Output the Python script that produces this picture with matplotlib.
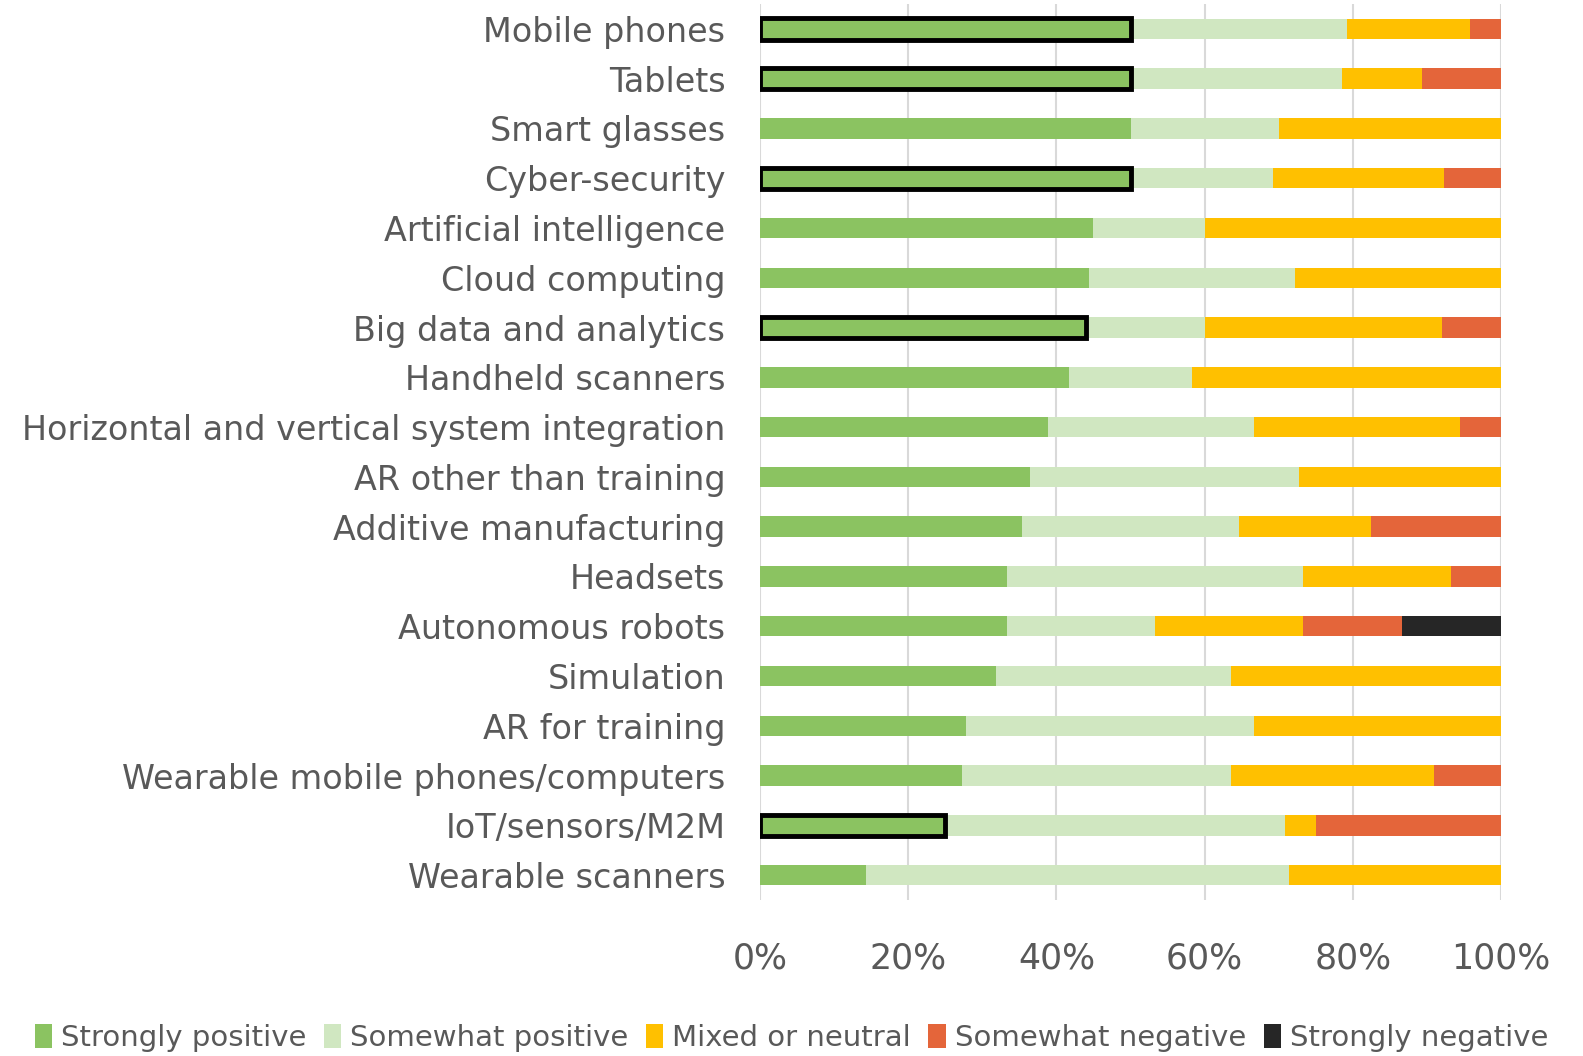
import numpy as np
import matplotlib
matplotlib.use("Agg")
import matplotlib.pyplot as plt
from matplotlib.ticker import PercentFormatter

categories = ["Mobile phones", "Tablets", "Smart glasses", "Cyber-security",
              "Artificial intelligence", "Cloud computing", "Big data and analytics",
              "Handheld scanners", "Horizontal and vertical system integration",
              "AR other than training", "Additive manufacturing", "Headsets",
              "Autonomous robots", "Simulation", "AR for training",
              "Wearable mobile phones/computers", "IoT/sensors/M2M", "Wearable scanners"]

# shares in percent, per category (same order as above)
strongly_pos = [50.0, 50.0, 50.0, 50.0, 45.0, 44.4, 44.0, 41.7, 38.9, 36.4, 35.3, 33.3, 33.3, 31.8, 27.8, 27.3, 25.0, 14.3]
somewhat_pos = [29.2, 28.6, 20.0, 19.2, 15.0, 27.8, 16.0, 16.6, 27.8, 36.3, 29.4, 40.0, 20.0, 31.8, 38.9, 36.3, 45.8, 57.1]
mixed        = [16.6, 10.7, 30.0, 23.1, 40.0, 27.8, 32.0, 41.7, 27.7, 27.3, 17.7, 20.0, 20.0, 36.4, 33.3, 27.3, 4.2, 28.6]
somewhat_neg = [4.2, 10.7, 0.0, 7.7, 0.0, 0.0, 8.0, 0.0, 5.6, 0.0, 17.6, 6.7, 13.3, 0.0, 0.0, 9.1, 25.0, 0.0]
strongly_neg = [0.0, 0.0, 0.0, 0.0, 0.0, 0.0, 0.0, 0.0, 0.0, 0.0, 0.0, 0.0, 13.4, 0.0, 0.0, 0.0, 0.0, 0.0]
highlighted = ["Mobile phones", "Tablets", "Cyber-security", "Big data and analytics", "IoT/sensors/M2M"]

series = [("Strongly positive", strongly_pos, "#8BC361"),
          ("Somewhat positive", somewhat_pos, "#D0E7C1"),
          ("Mixed or neutral", mixed, "#FFC000"),
          ("Somewhat negative", somewhat_neg, "#E4653A"),
          ("Strongly negative", strongly_neg, "#262626")]

text_color = "#595959"
plt.rcParams['font.family'] = ['DejaVu Sans']

fig = plt.figure(figsize=(15.83, 10.56), dpi=100)
ax = fig.add_axes([760 / 1583, 1 - 900 / 1056, 741 / 1583, 896 / 1056])

y = np.arange(len(categories))
left = np.zeros(len(categories))
for name, vals, col in series:
    vals = np.array(vals)
    ax.barh(y, vals, left=left, height=0.41, color=col, label=name, zorder=2)
    left += vals

# black outline around selected strongly-positive bars
for i, cat in enumerate(categories):
    if cat in highlighted:
        ax.barh(i, strongly_pos[i], height=0.43, facecolor="none",
                edgecolor="black", linewidth=3.5, zorder=3)

ax.set_xlim(0, 100)
ax.set_ylim(len(categories) - 0.5, -0.5)
ax.set_yticks(y)
ax.set_yticklabels(categories, fontsize=24)
ax.set_xticks(np.arange(0, 101, 20))
ax.xaxis.set_major_formatter(PercentFormatter(decimals=0))
ax.grid(axis="x", color="#D9D9D9", linewidth=1.5, zorder=0)
for s in ax.spines.values():
    s.set_visible(False)
ax.tick_params(axis="both", length=0, colors=text_color)
ax.tick_params(axis="x", pad=30, labelsize=25)
ax.tick_params(axis="y", pad=25)

ax.legend(loc="center", bbox_to_anchor=(0.5, 1 - 1038 / 1056),
          bbox_transform=fig.transFigure, ncol=5, frameon=False, fontsize=21,
          labelcolor=text_color, handlelength=0.6, handleheight=0.9,
          handletextpad=0.3, columnspacing=0.6)

fig.savefig("out.png", dpi=100)
